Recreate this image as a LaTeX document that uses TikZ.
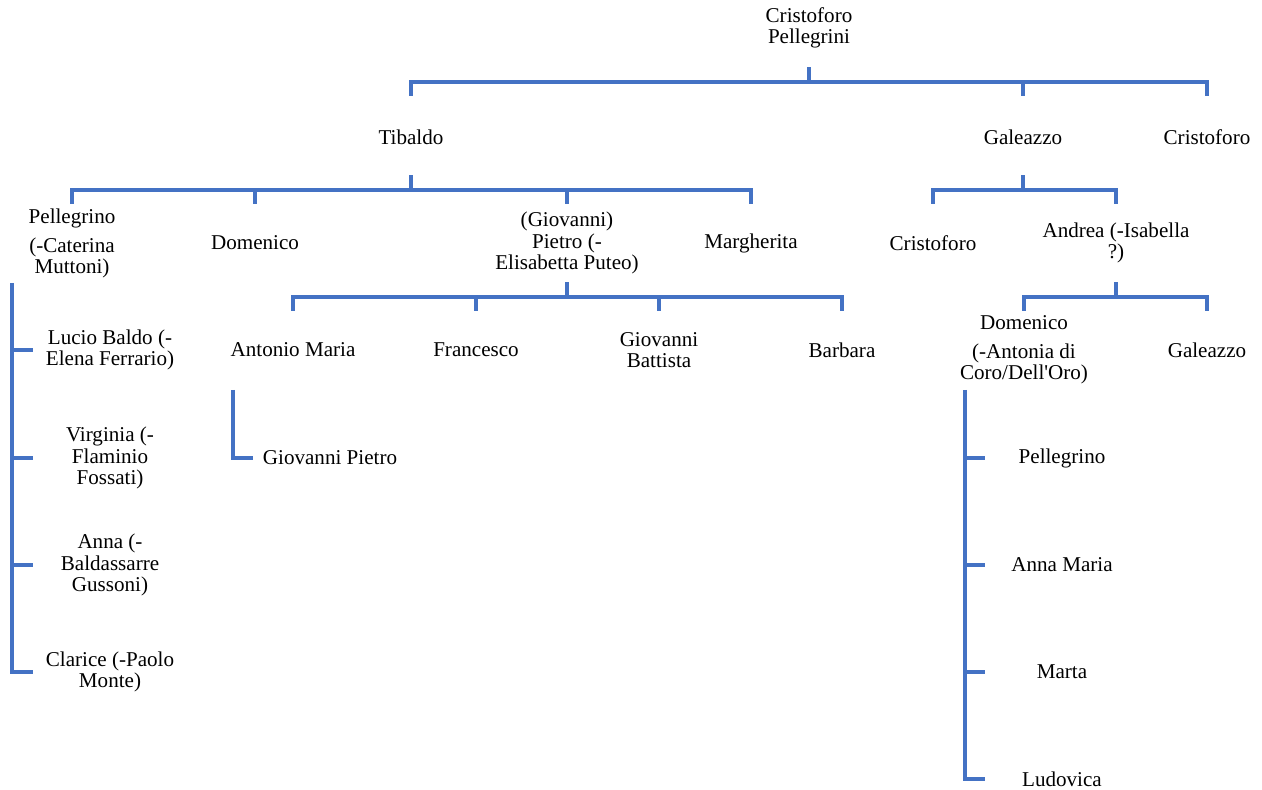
\documentclass[tikz,border=0pt]{standalone}
\usepackage{fontspec}
\setmainfont{Liberation Serif}
\definecolor{chartblue}{RGB}{68,114,196}

\begin{document}
\begin{tikzpicture}[x=0.02cm, y=-0.02cm, every node/.style={font=\fontsize{12}{12}\selectfont, align=center, inner sep=0pt}, link/.style={draw=chartblue, line width=1.8pt}]
	\useasboundingbox (0,0) rectangle (1262,790);
	% people
	\node (root) at (809,28) {Cristoforo\\Pellegrini};
	\node (tib) at (411,137) {Tibaldo};
	\node (gal) at (1023,137) {Galeazzo};
	\node (cri) at (1207,137) {Cristoforo};
	\node (pel) at (72,243) {Pellegrino\\[4.5pt](-Caterina\\Muttoni)};
	\node (dom) at (255,243) {Domenico};
	\node (pie) at (567,243) {(Giovanni)\\Pietro (-\\Elisabetta Puteo)};
	\node (mar) at (751,243) {Margherita};
	\node (cri2) at (933,243) {Cristoforo};
	\node (and) at (1116,243) {Andrea (-Isabella\\?)};
	\node (ant) at (293,350) {Antonio Maria};
	\node (fra) at (476,350) {Francesco};
	\node (gio) at (659,350) {Giovanni\\Battista};
	\node (bar) at (842,350) {Barbara};
	\node (dom2) at (1024,350) {Domenico\\[4.5pt](-Antonia di\\Coro/Dell\textquotesingle Oro)};
	\node (gal2) at (1207,350) {Galeazzo};
	\node (gp) at (330,458) {Giovanni Pietro};
	\foreach \n/\y/\t in {luc/350/{Lucio Baldo (-\\Elena Ferrario)}, vir/458/{Virginia (-\\Flaminio\\Fossati)}, ann/565/{Anna (-\\Baldassarre\\Gussoni)}, cla/672/{Clarice (-Paolo\\Monte)}}
		\node (\n) at (110,\y) {\t};
	\foreach \n/\y/\t in {pel2/458/Pellegrino, ann2/565/Anna Maria, mrt/672/Marta, lud/779/Ludovica}
		\node (\n) at (1062,\y) {\t};
	% buses
	\coordinate (b0) at (809,82);
	\coordinate (b1) at (411,190);
	\coordinate (b2) at (1023,190);
	\coordinate (b3) at (567,297);
	\coordinate (b4) at (1116,297);
	\foreach \b/\f/\l in {b0/tib/cri, b1/pel/mar, b2/cri2/and, b3/ant/bar, b4/dom2/gal2} {
		\draw[link] (\b) -- ++(0,-15);
		\draw[link] (\f |- \b) ++(0,14) -- (\f |- \b) -- (\l |- \b) -- ++(0,14);
	}
	\foreach \b/\c in {b0/gal, b1/dom, b1/pie, b3/fra, b3/gio}
		\draw[link] (\c |- \b) -- ++(0,14);
	% side lines
	\coordinate (t1) at (12,283);
	\coordinate (t2) at (965,390);
	\coordinate (t3) at (233,390);
	\draw[link] (t1) -- (t1 |- cla) -- ++(21,0);
	\foreach \c in {luc, vir, ann}
		\draw[link] (t1 |- \c) -- ++(21,0);
	\draw[link] (t2) -- (t2 |- lud) -- ++(20,0);
	\foreach \c in {pel2, ann2, mrt}
		\draw[link] (t2 |- \c) -- ++(20,0);
	\draw[link] (t3) -- (t3 |- gp) -- ++(20,0);
\end{tikzpicture}
\end{document}
